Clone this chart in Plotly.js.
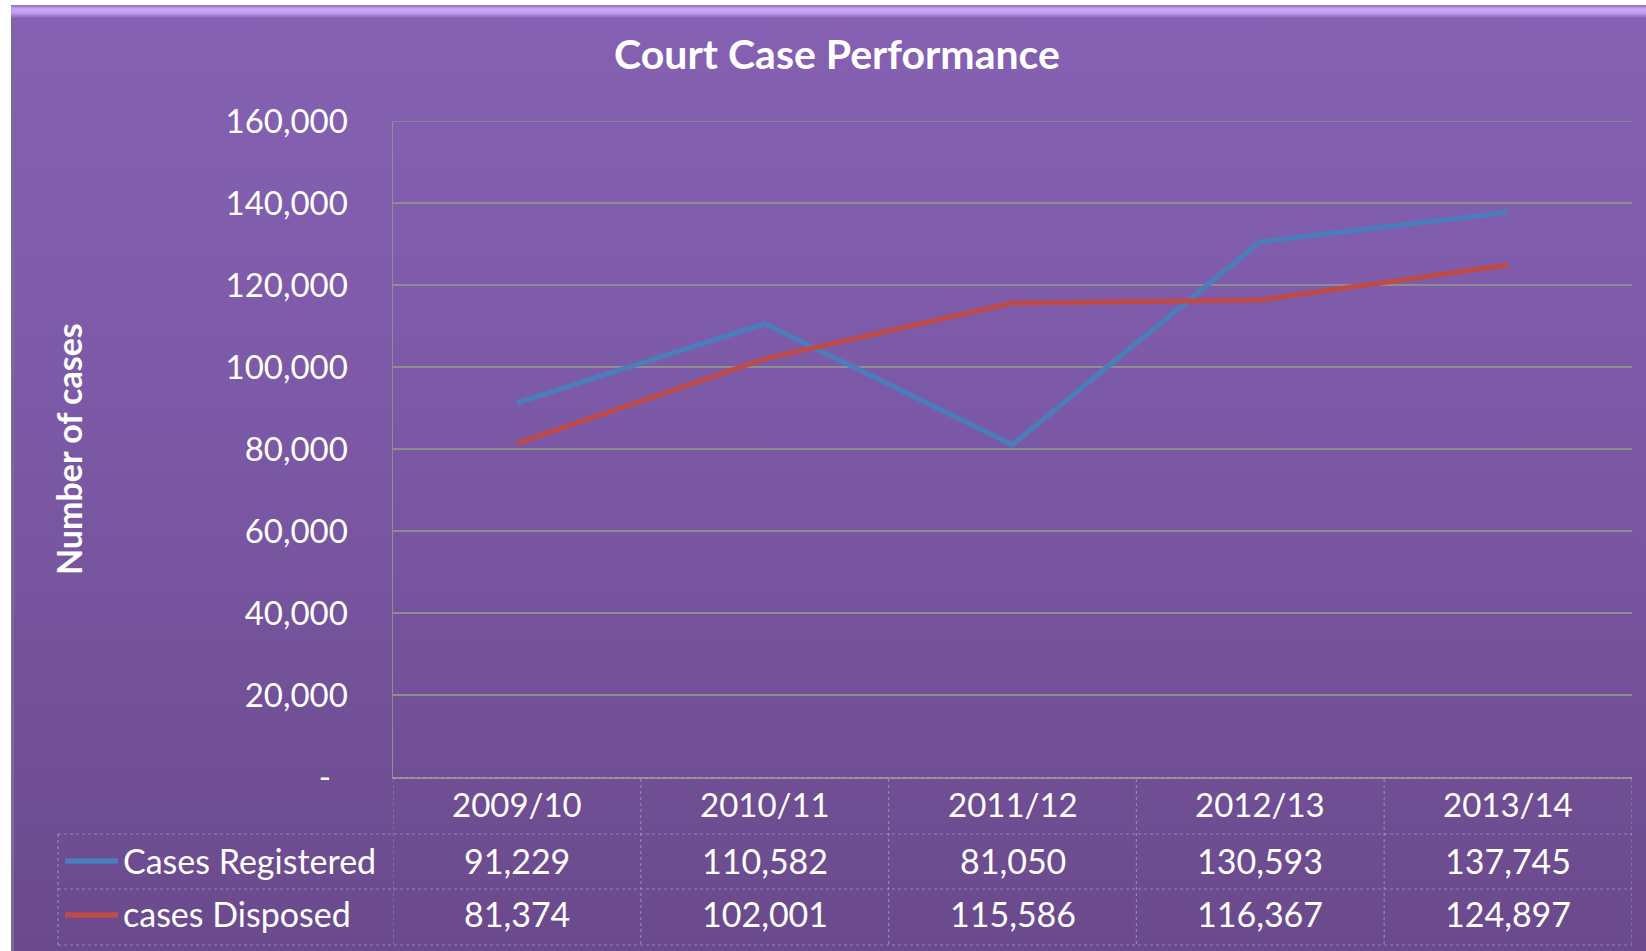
<!DOCTYPE html>
<html>
<head>
<meta charset="utf-8">
<script src="https://cdn.plot.ly/plotly-3.0.1.min.js"></script>
<style>
  html, body { margin:0; padding:0; background:#ffffff; width:1646px; height:951px; overflow:hidden; }
  #frame { position:absolute; left:11px; top:5px; width:1635px; height:946px;
    background: linear-gradient(to bottom, #8661b3 0%, #7d5aa8 40%, #6a4a8c 100%);
    border-left:3px solid #7b6a93; box-sizing:border-box; }
  #bevel { position:absolute; left:11px; top:5px; width:1635px; height:13px;
    background: linear-gradient(to bottom, #8f6cc0 0%, #c7a5f2 30%, #c2a0ee 60%, #8863b6 100%); }
  #chart { position:absolute; left:0; top:0; width:1646px; height:951px; }
</style>
</head>
<body>
<div id="frame"></div>
<div id="bevel"></div>
<div id="chart"></div>
<script>
const categories = ['2009/10', '2010/11', '2011/12', '2012/13', '2013/14'];
const registered = [91229, 110582, 81050, 130593, 137745];
const disposed = [81374, 102001, 115586, 116367, 124897];
const seriesNames = ['Cases Registered', 'cases Disposed'];
const yTickVals = [0, 20000, 40000, 60000, 80000, 100000, 120000, 140000, 160000];
const yTickText = ['-\u00a0\u00a0', '20,000', '40,000', '60,000', '80,000', '100,000', '120,000', '140,000', '160,000'];

const W = 1646, H = 951;
const L = 393, R = 1632, T = 121, B = 777;
const px2x = p => (p - L) / (R - L);
const py2y = p => (B - p) / (B - T);
const FONT = 'Lato, "Open Sans", sans-serif';
const blue = '#4a7ebb', red = '#be4b48';
const gridCol = '#8e8e8e';
const fmt = v => v.toLocaleString('en-US');

const traces = [
  { x: categories, y: registered, type: 'scatter', mode: 'lines', name: seriesNames[0],
    line: { color: blue, width: 5 } },
  { x: categories, y: disposed, type: 'scatter', mode: 'lines', name: seriesNames[1],
    line: { color: red, width: 5 } }
];

const white = { family: FONT, size: 33, color: '#ffffff' };
const whiteL = { family: FONT, size: 34, color: '#ffffff' };
const annotations = [];
const shapes = [];
const dotted = { color: 'rgba(195,185,215,0.5)', width: 1.2, dash: 'dot' };

const rowY = [804, 860, 914];
categories.forEach((c, i) => {
  annotations.push({ x: c, xref: 'x', y: py2y(rowY[0]), yref: 'paper', text: c,
    showarrow: false, xanchor: 'center', yanchor: 'middle', font: white });
  annotations.push({ x: c, xref: 'x', y: py2y(rowY[1]), yref: 'paper', text: fmt(registered[i]),
    showarrow: false, xanchor: 'center', yanchor: 'middle', font: whiteL });
  annotations.push({ x: c, xref: 'x', y: py2y(rowY[2]), yref: 'paper', text: fmt(disposed[i]),
    showarrow: false, xanchor: 'center', yanchor: 'middle', font: whiteL });
});
[[seriesNames[0], blue, rowY[1]], [seriesNames[1], red, rowY[2]]].forEach(([n, col, yy]) => {
  annotations.push({ x: px2x(121), xref: 'paper', y: py2y(yy), yref: 'paper', text: n,
    showarrow: false, xanchor: 'left', yanchor: 'middle', font: whiteL });
  shapes.push({ type: 'line', xref: 'paper', yref: 'paper', x0: px2x(65), x1: px2x(118),
    y0: py2y(yy + 1), y1: py2y(yy + 1), line: { color: col, width: 5.5 } });
});
// axis title
annotations.push({ x: px2x(68), xref: 'paper', y: py2y(449), yref: 'paper', text: '<b>Number of cases</b>',
  textangle: -90, showarrow: false, xanchor: 'center', yanchor: 'middle',
  font: { family: FONT, size: 34, color: '#ffffff' } });

// top gridline (edge of range)
shapes.push({ type: 'line', xref: 'paper', yref: 'y', x0: 0, x1: 1,
  y0: yTickVals[yTickVals.length - 1], y1: yTickVals[yTickVals.length - 1],
  line: { color: gridCol, width: 1.5 } });

// table grid
[834, 889, 945].forEach(p => shapes.push({ type: 'line', xref: 'paper', yref: 'paper',
  x0: px2x(58), x1: 1, y0: py2y(p), y1: py2y(p), line: dotted }));
shapes.push({ type: 'line', xref: 'paper', yref: 'paper', x0: px2x(58), x1: px2x(58),
  y0: py2y(834), y1: py2y(945), line: dotted });
for (let k = 0; k <= categories.length; k++) {
  shapes.push({ type: 'line', xref: 'x', yref: 'paper', x0: k - 0.5, x1: k - 0.5,
    y0: py2y(779), y1: py2y(945), line: dotted });
}
shapes.push({ type: 'line', xref: 'paper', yref: 'paper', x0: 0, x1: 1,
  y0: py2y(778), y1: py2y(778), line: dotted });

const layout = {
  width: W, height: H,
  paper_bgcolor: 'rgba(0,0,0,0)', plot_bgcolor: 'rgba(0,0,0,0)',
  margin: { l: L, r: W - R, t: T, b: H - B, pad: 0 },
  showlegend: false,
  title: { text: '<b>Court Case Performance</b>', x: 837 / W, xref: 'container', xanchor: 'center',
    y: 1 - 55 / H, yref: 'container', yanchor: 'middle',
    font: { family: FONT, size: 41, color: '#ffffff' } },
  xaxis: { type: 'category', range: [-0.5, categories.length - 0.5], showticklabels: false,
    showgrid: false, zeroline: false, showline: true, linecolor: gridCol, linewidth: 1.5,
    ticks: '', fixedrange: true },
  yaxis: { range: [0, 160000], tickvals: yTickVals, ticktext: yTickText,
    showgrid: true, gridcolor: gridCol, gridwidth: 1.5, zeroline: false,
    showline: true, linecolor: gridCol, linewidth: 1.5,
    ticks: '', ticklabelstandoff: 37, tickfont: white, fixedrange: true },
  annotations: annotations,
  shapes: shapes
};

Plotly.newPlot('chart', traces, layout, { displayModeBar: false, staticPlot: true });
</script>
</body>
</html>
